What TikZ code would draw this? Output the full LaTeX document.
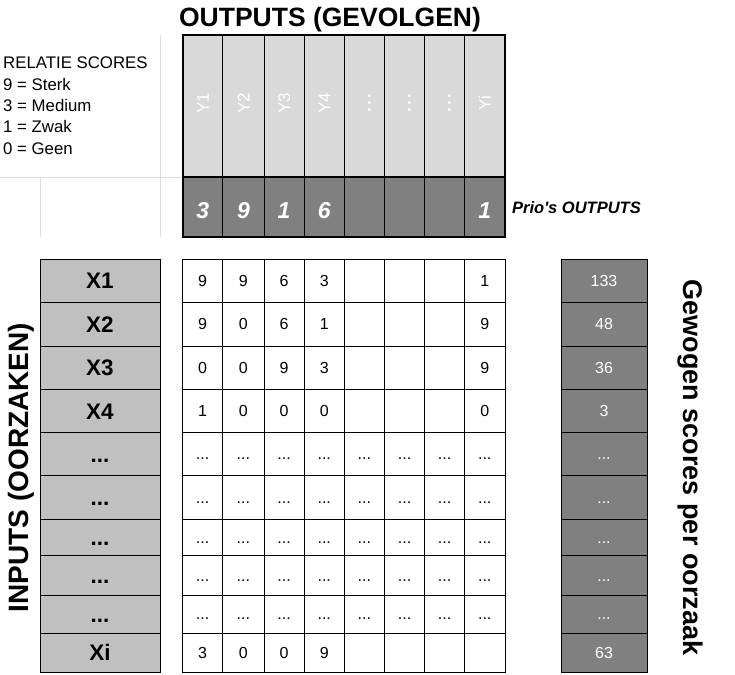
\documentclass[tikz,border=0pt]{standalone}
\usepackage{fontspec}
\setmainfont{Liberation Sans}
\definecolor{chdr}{HTML}{D9D9D9}
\definecolor{cdark}{HTML}{808080}
\definecolor{cxcol}{HTML}{C0C0C0}
\definecolor{csheet}{HTML}{DDDDDD}
\newcommand\mkcell[6]{\pgfmathsetmacro\cw{#4-#2}\pgfmathsetmacro\ch{#5-#3}%
  \node[#6, minimum width=\cw pt, minimum height=\ch pt] (#1) at ({(#2+#4)/2},{(#3+#5)/2}) {};}
\newcommand\hdrdots{\textbf{.\kern2.3pt.\kern2.3pt.}}
\newcommand\tdots{...}
\begin{document}
\begin{tikzpicture}[x=1pt,y=-1pt,
 cellbox/.style={draw=black,line width=0.9pt,inner sep=0pt,outer sep=0pt},
 hdrcell/.style={cellbox,fill=chdr},
 priocell/.style={cellbox,fill=cdark},
 xcell/.style={cellbox,fill=cxcol},
 scell/.style={cellbox,fill=cdark},
 gcell/.style={cellbox,fill=white},
 ylab/.style={text=white,font=\fontsize{17}{17}\selectfont,inner sep=0pt,text height=12.2pt,text depth=0pt},
 prionum/.style={text=white,font=\bfseries\itshape\fontsize{23}{23}\selectfont,inner sep=0pt,text height=16.5pt,text depth=0pt},
 num/.style={font=\fontsize{16}{16}\selectfont,inner sep=0pt,text height=11.5pt,text depth=0pt},
 snum/.style={num,text=white},
 xlab/.style={font=\bfseries\fontsize{22.5}{22.5}\selectfont,inner sep=0pt,text height=16.1pt,text depth=0pt},
 legtxt/.style={font=\fontsize{16.8}{16.8}\selectfont,inner sep=0pt,anchor=base west},
 sheetline/.style={draw=csheet,line width=1pt},
 outerline/.style={draw=black,line width=2pt}
]
\useasboundingbox (0,0) rectangle (735,674);
\def\cols{182.5/222.8/1, 222.8/264/2, 264/304.2/3, 304.2/344.3/4, 344.3/384.5/5, 384.5/424.6/6, 424.6/464.5/7, 464.5/505/8}
\def\rows{259.3/302.3/1, 302.3/346/2, 346/389.3/3, 389.3/432.7/4, 432.7/475.7/5, 475.7/519/6, 519/555.7/7, 555.7/595/8, 595/633.3/9, 633.3/672.3/10}

% spreadsheet grid lines
\draw[sheetline] (160,35) -- (160,237.3);
\draw[sheetline] (0,177.3) -- (182.5,177.3);
\draw[sheetline] (40,177.3) -- (40,237.3);

% title
\node[font=\bfseries\fontsize{26.5}{26.5}\selectfont,inner sep=0pt,anchor=base] (title) at (330,27) {OUTPUTS (GEVOLGEN)};

% legend
\node[legtxt] (leg1) at (3,69) {RELATIE SCORES};
\node[legtxt] (leg2) at (3,90.5) {9 = Sterk};
\node[legtxt] (leg3) at (3,111.7) {3 = Medium};
\node[legtxt] (leg4) at (3,132.5) {1 = Zwak};
\node[legtxt] (leg5) at (3,154) {0 = Geen};

% header cells
\foreach \xa/\xb/\c in \cols {\mkcell{h\c}{\xa}{35}{\xb}{177.3}{hdrcell}\mkcell{p\c}{\xa}{177.3}{\xb}{237.3}{priocell}}
\foreach \c/\t in {1/Y1,2/Y2,3/Y3,4/Y4,5/\hdrdots,6/\hdrdots,7/\hdrdots,8/Yi}
  \node[ylab,yshift=2.7pt,rotate=90] (yl\c) at (h\c.center) {\t};
\foreach \c/\t in {1/3,2/9,3/1,4/6,8/1}
  \node[prionum,yshift=-2.7pt] (pv\c) at (p\c.center) {\t};
\draw[outerline] (h1.north west) rectangle (p8.south east);
\draw[outerline] (p1.north west) -- (p8.north east);

\node[font=\bfseries\itshape\fontsize{16.5}{16.5}\selectfont,inner sep=0pt,anchor=base west] (priolab) at (512,213.5) {Prio\textquotesingle s OUTPUTS};

% body cells
\foreach \ya/\yb/\r in \rows {%
  \mkcell{x\r}{40}{\ya}{160}{\yb}{xcell}%
  \mkcell{s\r}{561}{\ya}{647}{\yb}{scell}%
  \foreach \xa/\xb/\c in \cols {\mkcell{g\r-\c}{\xa}{\ya}{\xb}{\yb}{gcell}}%
}
\foreach \r/\t in {1/X1,2/X2,3/X3,4/X4,5/\tdots,6/\tdots,7/\tdots,8/\tdots,9/\tdots,10/Xi}
  \node[xlab] (xl\r) at (x\r.center) {\t};
\foreach \r/\c/\v in {1/1/9,1/2/9,1/3/6,1/4/3,1/8/1,
                      2/1/9,2/2/0,2/3/6,2/4/1,2/8/9,
                      3/1/0,3/2/0,3/3/9,3/4/3,3/8/9,
                      4/1/1,4/2/0,4/3/0,4/4/0,4/8/0,
                      10/1/3,10/2/0,10/3/0,10/4/9}
  \node[num] (v\r-\c) at (g\r-\c.center) {\v};
\foreach \r in {5,6,7,8,9}{\foreach \c in {1,2,3,4,5,6,7,8}{\node[num] (v\r-\c) at (g\r-\c.center) {\tdots};}}
\foreach \r/\t in {1/133,2/48,3/36,4/3,5/\tdots,6/\tdots,7/\tdots,8/\tdots,9/\tdots,10/63}
  \node[snum] (sv\r) at (s\r.center) {\t};

% side labels
\node[font=\bfseries\fontsize{28}{28}\selectfont,inner sep=0pt,rotate=90] (inlab) at (21,467.5) {INPUTS (OORZAKEN)};
\node[font=\bfseries\fontsize{27}{27}\selectfont,inner sep=0pt,rotate=-90] (outlab) at (690,467.5) {Gewogen scores per oorzaak};
\end{tikzpicture}
\end{document}
